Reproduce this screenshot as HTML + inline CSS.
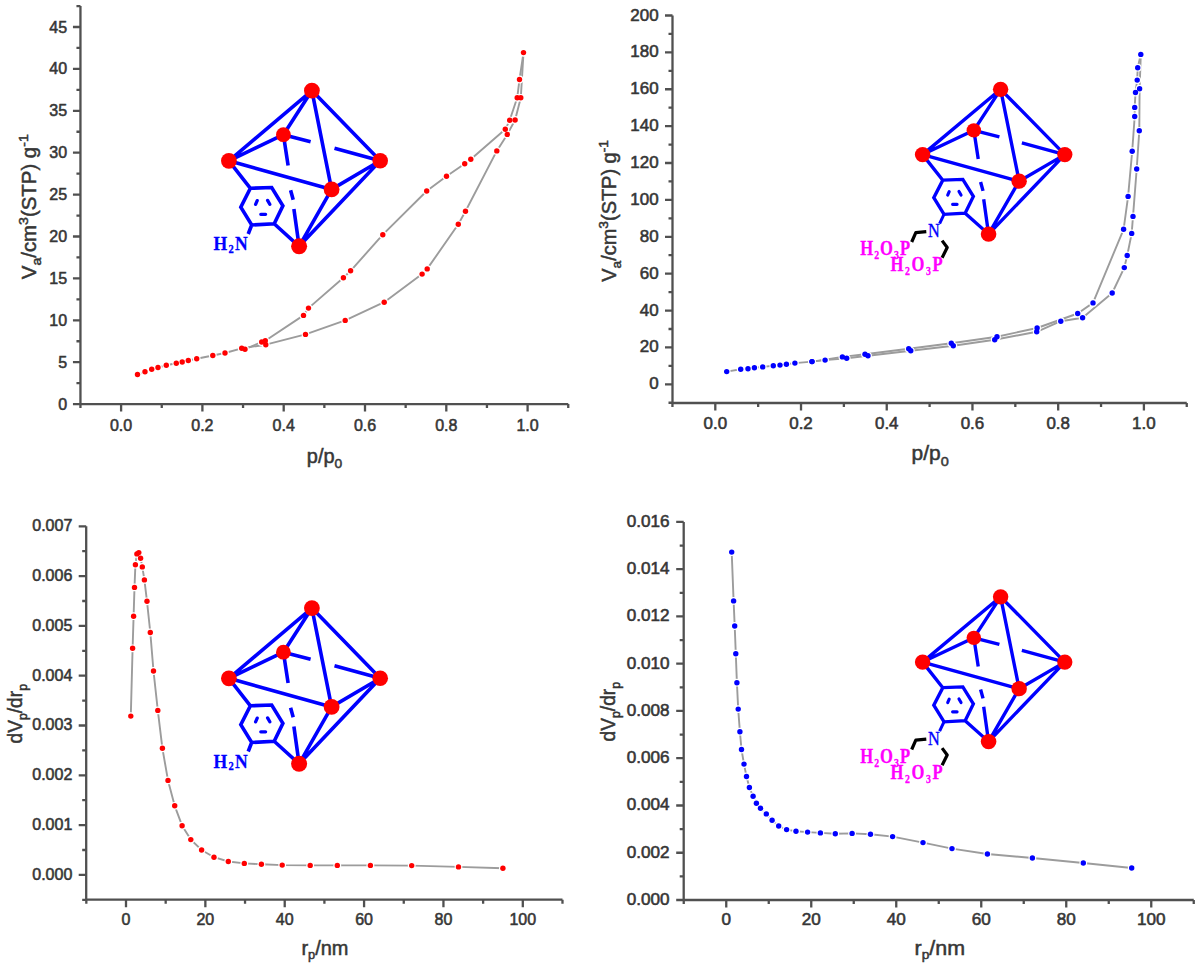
<!DOCTYPE html><html><head><meta charset="utf-8"><style>html,body{margin:0;padding:0;background:#fff;width:1200px;height:969px;overflow:hidden}svg{display:block}.t{font-family:"Liberation Sans",sans-serif;font-size:16px;fill:#363636;stroke:#363636;stroke-width:0.55px}.ti{font-family:"Liberation Sans",sans-serif;font-size:19.5px;fill:#363636;stroke:#363636;stroke-width:0.5px}.sf{font-family:"Liberation Serif",serif;font-weight:bold}</style></head><body>
<svg width="1200" height="969" viewBox="0 0 1200 969">
<defs><filter id="bl" x="0" y="0" width="1200" height="969" filterUnits="userSpaceOnUse"><feGaussianBlur stdDeviation="0.0"/></filter></defs>
<rect width="1200" height="969" fill="#fff"/>
<g>
<path d="M80.45 6.05V404.1H568.25" fill="none" stroke="#505050" stroke-width="2.3" stroke-linejoin="round"/>
<text x="67.15" y="409.6" text-anchor="end" class="t">0</text>
<text x="67.15" y="367.7" text-anchor="end" class="t">5</text>
<text x="67.15" y="325.8" text-anchor="end" class="t">10</text>
<text x="67.15" y="283.9" text-anchor="end" class="t">15</text>
<text x="67.15" y="242" text-anchor="end" class="t">20</text>
<text x="67.15" y="200.1" text-anchor="end" class="t">25</text>
<text x="67.15" y="158.2" text-anchor="end" class="t">30</text>
<text x="67.15" y="116.3" text-anchor="end" class="t">35</text>
<text x="67.15" y="74.4" text-anchor="end" class="t">40</text>
<text x="67.15" y="32.5" text-anchor="end" class="t">45</text>
<text x="121.1" y="430.5" text-anchor="middle" class="t">0.0</text>
<text x="202.4" y="430.5" text-anchor="middle" class="t">0.2</text>
<text x="283.7" y="430.5" text-anchor="middle" class="t">0.4</text>
<text x="365" y="430.5" text-anchor="middle" class="t">0.6</text>
<text x="446.3" y="430.5" text-anchor="middle" class="t">0.8</text>
<text x="527.6" y="430.5" text-anchor="middle" class="t">1.0</text>
<path d="M80.45 404.1h-7.5M80.45 383.15h-4M80.45 362.2h-7.5M80.45 341.25h-4M80.45 320.3h-7.5M80.45 299.35h-4M80.45 278.4h-7.5M80.45 257.45h-4M80.45 236.5h-7.5M80.45 215.55h-4M80.45 194.6h-7.5M80.45 173.65h-4M80.45 152.7h-7.5M80.45 131.75h-4M80.45 110.8h-7.5M80.45 89.85h-4M80.45 68.9h-7.5M80.45 47.95h-4M80.45 27h-7.5M80.45 6.05h-4M80.45 404.1v4M121.1 404.1v7.5M161.75 404.1v4M202.4 404.1v7.5M243.05 404.1v4M283.7 404.1v7.5M324.35 404.1v4M365 404.1v7.5M405.65 404.1v4M446.3 404.1v7.5M486.95 404.1v4M527.6 404.1v7.5M568.25 404.1v4" fill="none" stroke="#505050" stroke-width="2.3"/>
<path d="M672.5 15.5V403H1186.76" fill="none" stroke="#505050" stroke-width="2.3" stroke-linejoin="round"/>
<text transform="translate(658.6 389.3) scale(1.06 1)" text-anchor="end" class="t">0</text>
<text transform="translate(658.6 352.42) scale(1.06 1)" text-anchor="end" class="t">20</text>
<text transform="translate(658.6 315.54) scale(1.06 1)" text-anchor="end" class="t">40</text>
<text transform="translate(658.6 278.66) scale(1.06 1)" text-anchor="end" class="t">60</text>
<text transform="translate(658.6 241.78) scale(1.06 1)" text-anchor="end" class="t">80</text>
<text transform="translate(658.6 204.9) scale(1.06 1)" text-anchor="end" class="t">100</text>
<text transform="translate(658.6 168.02) scale(1.06 1)" text-anchor="end" class="t">120</text>
<text transform="translate(658.6 131.14) scale(1.06 1)" text-anchor="end" class="t">140</text>
<text transform="translate(658.6 94.26) scale(1.06 1)" text-anchor="end" class="t">160</text>
<text transform="translate(658.6 57.38) scale(1.06 1)" text-anchor="end" class="t">180</text>
<text transform="translate(658.6 20.5) scale(1.06 1)" text-anchor="end" class="t">200</text>
<text transform="translate(715.3 429) scale(1.06 1)" text-anchor="middle" class="t">0.0</text>
<text transform="translate(801.02 429) scale(1.06 1)" text-anchor="middle" class="t">0.2</text>
<text transform="translate(886.74 429) scale(1.06 1)" text-anchor="middle" class="t">0.4</text>
<text transform="translate(972.46 429) scale(1.06 1)" text-anchor="middle" class="t">0.6</text>
<text transform="translate(1058.18 429) scale(1.06 1)" text-anchor="middle" class="t">0.8</text>
<text transform="translate(1143.9 429) scale(1.06 1)" text-anchor="middle" class="t">1.0</text>
<path d="M672.5 402.74h-4M672.5 384.3h-7.5M672.5 365.86h-4M672.5 347.42h-7.5M672.5 328.98h-4M672.5 310.54h-7.5M672.5 292.1h-4M672.5 273.66h-7.5M672.5 255.22h-4M672.5 236.78h-7.5M672.5 218.34h-4M672.5 199.9h-7.5M672.5 181.46h-4M672.5 163.02h-7.5M672.5 144.58h-4M672.5 126.14h-7.5M672.5 107.7h-4M672.5 89.26h-7.5M672.5 70.82h-4M672.5 52.38h-7.5M672.5 33.94h-4M672.5 15.5h-7.5M672.44 403v4M715.3 403v7.5M758.16 403v4M801.02 403v7.5M843.88 403v4M886.74 403v7.5M929.6 403v4M972.46 403v7.5M1015.32 403v4M1058.18 403v7.5M1101.04 403v4M1143.9 403v7.5M1186.76 403v4" fill="none" stroke="#505050" stroke-width="2.3"/>
<path d="M86.2 526.3V899.7H562.48" fill="none" stroke="#505050" stroke-width="2.3" stroke-linejoin="round"/>
<text x="72.3" y="879.7" text-anchor="end" class="t">0.000</text>
<text x="72.3" y="829.9" text-anchor="end" class="t">0.001</text>
<text x="72.3" y="780.1" text-anchor="end" class="t">0.002</text>
<text x="72.3" y="730.3" text-anchor="end" class="t">0.003</text>
<text x="72.3" y="680.5" text-anchor="end" class="t">0.004</text>
<text x="72.3" y="630.7" text-anchor="end" class="t">0.005</text>
<text x="72.3" y="580.9" text-anchor="end" class="t">0.006</text>
<text x="72.3" y="531.1" text-anchor="end" class="t">0.007</text>
<text x="126" y="924.7" text-anchor="middle" class="t">0</text>
<text x="205.36" y="924.7" text-anchor="middle" class="t">20</text>
<text x="284.72" y="924.7" text-anchor="middle" class="t">40</text>
<text x="364.08" y="924.7" text-anchor="middle" class="t">60</text>
<text x="443.44" y="924.7" text-anchor="middle" class="t">80</text>
<text x="522.8" y="924.7" text-anchor="middle" class="t">100</text>
<path d="M86.2 899.8h-4M86.2 874.9h-7.5M86.2 850h-4M86.2 825.1h-7.5M86.2 800.2h-4M86.2 775.3h-7.5M86.2 750.4h-4M86.2 725.5h-7.5M86.2 700.6h-4M86.2 675.7h-7.5M86.2 650.8h-4M86.2 625.9h-7.5M86.2 601h-4M86.2 576.1h-7.5M86.2 551.2h-4M86.2 526.3h-7.5M86.32 899.7v4M126 899.7v7.5M165.68 899.7v4M205.36 899.7v7.5M245.04 899.7v4M284.72 899.7v7.5M324.4 899.7v4M364.08 899.7v7.5M403.76 899.7v4M443.44 899.7v7.5M483.12 899.7v4M522.8 899.7v7.5M562.48 899.7v4" fill="none" stroke="#505050" stroke-width="2.3"/>
<path d="M683.7 521.92V900H1193.75" fill="none" stroke="#505050" stroke-width="2.3" stroke-linejoin="round"/>
<text transform="translate(669.6 905) scale(1.07 1)" text-anchor="end" class="t">0.000</text>
<text transform="translate(669.6 857.74) scale(1.07 1)" text-anchor="end" class="t">0.002</text>
<text transform="translate(669.6 810.48) scale(1.07 1)" text-anchor="end" class="t">0.004</text>
<text transform="translate(669.6 763.22) scale(1.07 1)" text-anchor="end" class="t">0.006</text>
<text transform="translate(669.6 715.96) scale(1.07 1)" text-anchor="end" class="t">0.008</text>
<text transform="translate(669.6 668.7) scale(1.07 1)" text-anchor="end" class="t">0.010</text>
<text transform="translate(669.6 621.44) scale(1.07 1)" text-anchor="end" class="t">0.012</text>
<text transform="translate(669.6 574.18) scale(1.07 1)" text-anchor="end" class="t">0.014</text>
<text transform="translate(669.6 526.92) scale(1.07 1)" text-anchor="end" class="t">0.016</text>
<text transform="translate(726.25 924.6) scale(1.07 1)" text-anchor="middle" class="t">0</text>
<text transform="translate(811.25 924.6) scale(1.07 1)" text-anchor="middle" class="t">20</text>
<text transform="translate(896.25 924.6) scale(1.07 1)" text-anchor="middle" class="t">40</text>
<text transform="translate(981.25 924.6) scale(1.07 1)" text-anchor="middle" class="t">60</text>
<text transform="translate(1066.25 924.6) scale(1.07 1)" text-anchor="middle" class="t">80</text>
<text transform="translate(1151.25 924.6) scale(1.07 1)" text-anchor="middle" class="t">100</text>
<path d="M683.7 900h-7.5M683.7 876.37h-4M683.7 852.74h-7.5M683.7 829.11h-4M683.7 805.48h-7.5M683.7 781.85h-4M683.7 758.22h-7.5M683.7 734.59h-4M683.7 710.96h-7.5M683.7 687.33h-4M683.7 663.7h-7.5M683.7 640.07h-4M683.7 616.44h-7.5M683.7 592.81h-4M683.7 569.18h-7.5M683.7 545.55h-4M683.7 521.92h-7.5M683.75 900v4M726.25 900v7.5M768.75 900v4M811.25 900v7.5M853.75 900v4M896.25 900v7.5M938.75 900v4M981.25 900v7.5M1023.75 900v4M1066.25 900v7.5M1108.75 900v4M1151.25 900v7.5M1193.75 900v4" fill="none" stroke="#505050" stroke-width="2.3"/>
<path d="M137.5 374.5 L145 371.7 L151.7 369.2 L158 367.5 L166.3 365.3 L176.3 363.3 L182.2 362 L188.3 360.5 L196.7 358.8 L212.8 355.5 L225 353 L241.7 348.3 L265.8 344.7 L305.5 334.4 L345.2 320.4 L384.2 302.2 L422.1 274.1 L427.2 268.9 L458.3 224.3 L465.5 211.3 L496.8 150.9 L507.3 134.4 L515.1 120 L520.8 97.8 L523.5 52.6" fill="none" stroke="#9c9c9c" stroke-width="1.9" stroke-linejoin="round"/>
<path d="M523.5 52.6 L519.5 79.5 L517.2 97.8 L509.7 120.3 L505.3 129.3 L470.8 159.2 L464.7 163.7 L446.5 176.2 L426.7 191 L382.8 234.7 L350.6 270.8 L343.4 277.7 L308.5 308.1 L303.5 315.4 L265.3 340.8 L261.7 342 L245 349.2" fill="none" stroke="#9c9c9c" stroke-width="1.9" stroke-linejoin="round"/>
<path d="M726.7 371.6 L740.7 369.3 L748 368.7 L754.4 367.7 L762.7 366.9 L773.3 365.7 L780 365.1 L786.4 364.3 L794.9 363.1 L812 361.6 L825.1 360.1 L846.7 358.3 L868 355.8 L910.8 350.8 L953.3 345.8 L994.7 339.7 L1036.7 331.8 L1060.8 321.2 L1082.6 317.8 L1112.2 293 L1124.3 267.6 L1127.2 255.5 L1131.7 233.4 L1133 216.4 L1136.7 169 L1139.3 130.8 L1139.6 88.7 L1140.8 54.4" fill="none" stroke="#9c9c9c" stroke-width="1.9" stroke-linejoin="round"/>
<path d="M1140.8 54.4 L1137.7 67.7 L1137.2 80.1 L1135.5 92.5 L1134.7 107.4 L1134.7 116.5 L1132.2 151.2 L1128.1 196.4 L1123.6 229.3 L1093 302.9 L1077.7 313.5 L1037.1 328 L997 336.7 L951.3 343.3 L908.7 348.7 L865 354.2 L842.4 356.9 L812 361.6" fill="none" stroke="#9c9c9c" stroke-width="1.9" stroke-linejoin="round"/>
<path d="M130.8 716.1 L132.6 648.3 L133.6 616.2 L134.5 587.4 L135.4 564.7 L136.9 553.9 L138.8 552.6 L140.6 558.2 L142.3 566.9 L144.4 579.9 L147 601.3 L150.3 632.5 L153.5 671 L157.8 710.4 L162.4 748.3 L168 780.4 L174.7 805.8 L182.1 825.7 L190.8 839.6 L201.6 850 L214 857.2 L228.3 861.5 L244.3 863.4 L261.4 864.3 L282.2 865.1 L310.2 865.4 L337.3 865.4 L370.4 865.4 L411.7 865.6 L458.5 866.9 L502.9 868.3" fill="none" stroke="#9c9c9c" stroke-width="1.9" stroke-linejoin="round"/>
<path d="M731.7 552.1 L733.6 600.9 L734.7 626 L735.8 653.7 L736.9 682.7 L738.2 709.1 L739.9 731.7 L741.5 749.5 L744 764.1 L746.5 776.5 L749.4 787.5 L753.1 796.3 L756.4 803.2 L760.5 808.3 L766.3 813.9 L772.1 820.2 L778.7 826 L786.6 829.6 L796 831.3 L807.6 832.1 L820.4 832.9 L835.3 833.8 L852.1 833.4 L870.5 834.3 L892.6 836.6 L923 842.6 L952 848.6 L987.4 854 L1032.4 858 L1083.3 863 L1131.7 868" fill="none" stroke="#9c9c9c" stroke-width="1.9" stroke-linejoin="round"/>
<g><path d="M311.9 90.6L228.9 160.8M311.9 90.6L380.2 160.8M311.9 90.6L283.4 134.7M311.9 90.6L331.6 189.4M228.9 160.8L283.4 134.7M228.9 160.8L331.6 189.4M380.2 160.8L331.6 189.4M380.2 160.8L299.1 246.3M331.6 189.4L299.1 246.3M283.4 134.7L310.6 141.8M334.5 148.2L380.2 160.8M283.4 134.7L288.1 165.6M290.6 190.2L293.2 199.8M293.9 208.9L299.1 246.3M228.9 160.8L250.4 188.3M274.2 223.75L299.1 246.3M250.4 188.3 L271.7 187.5 L282.9 205.8 L274.2 223.75 L251.7 225 L240.8 207.1ZM251.7 225L248.2 234" fill="none" stroke="#0000ff" stroke-width="3.6" stroke-linecap="butt" stroke-linejoin="miter"/><path d="M255.6 204.4L257.2 200.6M267.6 200.4L269.8 204.3M260.8 214.3L265.6 214.3" fill="none" stroke="#0000ff" stroke-width="3.3" stroke-linecap="round"/><circle cx="311.9" cy="90.6" r="7.9" fill="#ff0000"/><circle cx="283.4" cy="134.7" r="7.4" fill="#ff0000"/><circle cx="228.9" cy="160.8" r="7.9" fill="#ff0000"/><circle cx="380.2" cy="160.8" r="7.8" fill="#ff0000"/><circle cx="331.6" cy="189.4" r="7.9" fill="#ff0000"/><circle cx="299.1" cy="246.3" r="8" fill="#ff0000"/></g>
<g transform="translate(0 517.5)"><path d="M311.9 90.6L228.9 160.8M311.9 90.6L380.2 160.8M311.9 90.6L283.4 134.7M311.9 90.6L331.6 189.4M228.9 160.8L283.4 134.7M228.9 160.8L331.6 189.4M380.2 160.8L331.6 189.4M380.2 160.8L299.1 246.3M331.6 189.4L299.1 246.3M283.4 134.7L310.6 141.8M334.5 148.2L380.2 160.8M283.4 134.7L288.1 165.6M290.6 190.2L293.2 199.8M293.9 208.9L299.1 246.3M228.9 160.8L250.4 188.3M274.2 223.75L299.1 246.3M250.4 188.3 L271.7 187.5 L282.9 205.8 L274.2 223.75 L251.7 225 L240.8 207.1ZM251.7 225L248.2 234" fill="none" stroke="#0000ff" stroke-width="3.6" stroke-linecap="butt" stroke-linejoin="miter"/><path d="M255.6 204.4L257.2 200.6M267.6 200.4L269.8 204.3M260.8 214.3L265.6 214.3" fill="none" stroke="#0000ff" stroke-width="3.3" stroke-linecap="round"/><circle cx="311.9" cy="90.6" r="7.9" fill="#ff0000"/><circle cx="283.4" cy="134.7" r="7.4" fill="#ff0000"/><circle cx="228.9" cy="160.8" r="7.9" fill="#ff0000"/><circle cx="380.2" cy="160.8" r="7.8" fill="#ff0000"/><circle cx="331.6" cy="189.4" r="7.9" fill="#ff0000"/><circle cx="299.1" cy="246.3" r="8" fill="#ff0000"/></g>
<g transform="matrix(0.94 0 0 0.93 707.43 5.06)"><path d="M311.9 90.6L228.9 160.8M311.9 90.6L380.2 160.8M311.9 90.6L283.4 134.7M311.9 90.6L331.6 189.4M228.9 160.8L283.4 134.7M228.9 160.8L331.6 189.4M380.2 160.8L331.6 189.4M380.2 160.8L299.1 246.3M331.6 189.4L299.1 246.3M283.4 134.7L310.6 141.8M334.5 148.2L380.2 160.8M283.4 134.7L288.1 165.6M290.6 190.2L293.2 199.8M293.9 208.9L299.1 246.3M228.9 160.8L250.4 188.3M274.2 223.75L299.1 246.3M250.4 188.3 L271.7 187.5 L282.9 205.8 L274.2 223.75 L251.7 225 L240.8 207.1Z" fill="none" stroke="#0000ff" stroke-width="3.6" stroke-linecap="butt" stroke-linejoin="miter"/><path d="M255.6 204.4L257.2 200.6M267.6 200.4L269.8 204.3M260.8 214.3L265.6 214.3" fill="none" stroke="#0000ff" stroke-width="3.3" stroke-linecap="round"/><circle cx="311.9" cy="90.6" r="8.22" fill="#ff0000"/><circle cx="283.4" cy="134.7" r="7.7" fill="#ff0000"/><circle cx="228.9" cy="160.8" r="8.22" fill="#ff0000"/><circle cx="380.2" cy="160.8" r="8.11" fill="#ff0000"/><circle cx="331.6" cy="189.4" r="8.22" fill="#ff0000"/><circle cx="299.1" cy="246.3" r="8.32" fill="#ff0000"/></g>
<g transform="matrix(0.94 0 0 0.93 707.43 512.56)"><path d="M311.9 90.6L228.9 160.8M311.9 90.6L380.2 160.8M311.9 90.6L283.4 134.7M311.9 90.6L331.6 189.4M228.9 160.8L283.4 134.7M228.9 160.8L331.6 189.4M380.2 160.8L331.6 189.4M380.2 160.8L299.1 246.3M331.6 189.4L299.1 246.3M283.4 134.7L310.6 141.8M334.5 148.2L380.2 160.8M283.4 134.7L288.1 165.6M290.6 190.2L293.2 199.8M293.9 208.9L299.1 246.3M228.9 160.8L250.4 188.3M274.2 223.75L299.1 246.3M250.4 188.3 L271.7 187.5 L282.9 205.8 L274.2 223.75 L251.7 225 L240.8 207.1Z" fill="none" stroke="#0000ff" stroke-width="3.6" stroke-linecap="butt" stroke-linejoin="miter"/><path d="M255.6 204.4L257.2 200.6M267.6 200.4L269.8 204.3M260.8 214.3L265.6 214.3" fill="none" stroke="#0000ff" stroke-width="3.3" stroke-linecap="round"/><circle cx="311.9" cy="90.6" r="8.22" fill="#ff0000"/><circle cx="283.4" cy="134.7" r="7.7" fill="#ff0000"/><circle cx="228.9" cy="160.8" r="8.22" fill="#ff0000"/><circle cx="380.2" cy="160.8" r="8.11" fill="#ff0000"/><circle cx="331.6" cy="189.4" r="8.22" fill="#ff0000"/><circle cx="299.1" cy="246.3" r="8.32" fill="#ff0000"/></g>
<text transform="translate(213.4 250) scale(1 1.1)" class="sf" font-size="17.6" fill="#0000ff" stroke="#0000ff" stroke-width="0.25" textLength="34.3" lengthAdjust="spacing">H<tspan font-size="10.5" dy="2.6">2</tspan><tspan dy="-2.6">N</tspan></text>
<text transform="translate(213.4 767.5) scale(1 1.1)" class="sf" font-size="17.6" fill="#0000ff" stroke="#0000ff" stroke-width="0.25" textLength="34.3" lengthAdjust="spacing">H<tspan font-size="10.5" dy="2.6">2</tspan><tspan dy="-2.6">N</tspan></text>
<path d="M944.6 213.2L939.6 223.6" stroke="#0000ff" stroke-width="3" fill="none"/><text transform="translate(928.0 237.2) scale(1.02 1.15)" font-family="Liberation Serif" font-size="16" fill="#0000ff" stroke="#0000ff" stroke-width="0.3">N</text><path d="M911.7 242L915.8 232.6L926.3 231.6M942.1 240.6L947.2 247.5L942.1 257.8" stroke="#000" stroke-width="3.2" fill="none" stroke-linejoin="round"/><text transform="translate(860.2 255.4) scale(1 1.22)" class="sf" font-size="16.6" fill="#ff00ff" stroke="#ff00ff" stroke-width="0.25" textLength="50" lengthAdjust="spacing">H<tspan font-size="9.8" dy="3.1">2</tspan><tspan dy="-3.1">O</tspan><tspan font-size="9.8" dy="3.1">3</tspan><tspan dy="-3.1">P</tspan></text><text transform="translate(890.6 271.4) scale(1 1.22)" class="sf" font-size="16.6" fill="#ff00ff" stroke="#ff00ff" stroke-width="0.25" textLength="52" lengthAdjust="spacing">H<tspan font-size="9.8" dy="3.1">2</tspan><tspan dy="-3.1">O</tspan><tspan font-size="9.8" dy="3.1">3</tspan><tspan dy="-3.1">P</tspan></text>
<path d="M944.6 720.7L939.6 731.1" stroke="#0000ff" stroke-width="3" fill="none"/><text transform="translate(928.0 744.7) scale(1.02 1.15)" font-family="Liberation Serif" font-size="16" fill="#0000ff" stroke="#0000ff" stroke-width="0.3">N</text><path d="M911.7 749.5L915.8 740.1L926.3 739.1M942.1 748.1L947.2 755L942.1 765.3" stroke="#000" stroke-width="3.2" fill="none" stroke-linejoin="round"/><text transform="translate(860.2 762.9) scale(1 1.22)" class="sf" font-size="16.6" fill="#ff00ff" stroke="#ff00ff" stroke-width="0.25" textLength="50" lengthAdjust="spacing">H<tspan font-size="9.8" dy="3.1">2</tspan><tspan dy="-3.1">O</tspan><tspan font-size="9.8" dy="3.1">3</tspan><tspan dy="-3.1">P</tspan></text><text transform="translate(890.6 778.9) scale(1 1.22)" class="sf" font-size="16.6" fill="#ff00ff" stroke="#ff00ff" stroke-width="0.25" textLength="52" lengthAdjust="spacing">H<tspan font-size="9.8" dy="3.1">2</tspan><tspan dy="-3.1">O</tspan><tspan font-size="9.8" dy="3.1">3</tspan><tspan dy="-3.1">P</tspan></text>
<circle cx="137.5" cy="374.5" r="3.9000000000000004" fill="#fff"/>
<circle cx="145" cy="371.7" r="3.9000000000000004" fill="#fff"/>
<circle cx="151.7" cy="369.2" r="3.9000000000000004" fill="#fff"/>
<circle cx="158" cy="367.5" r="3.9000000000000004" fill="#fff"/>
<circle cx="166.3" cy="365.3" r="3.9000000000000004" fill="#fff"/>
<circle cx="176.3" cy="363.3" r="3.9000000000000004" fill="#fff"/>
<circle cx="182.2" cy="362" r="3.9000000000000004" fill="#fff"/>
<circle cx="188.3" cy="360.5" r="3.9000000000000004" fill="#fff"/>
<circle cx="196.7" cy="358.8" r="3.9000000000000004" fill="#fff"/>
<circle cx="212.8" cy="355.5" r="3.9000000000000004" fill="#fff"/>
<circle cx="225" cy="353" r="3.9000000000000004" fill="#fff"/>
<circle cx="241.7" cy="348.3" r="3.9000000000000004" fill="#fff"/>
<circle cx="265.8" cy="344.7" r="3.9000000000000004" fill="#fff"/>
<circle cx="305.5" cy="334.4" r="3.9000000000000004" fill="#fff"/>
<circle cx="345.2" cy="320.4" r="3.9000000000000004" fill="#fff"/>
<circle cx="384.2" cy="302.2" r="3.9000000000000004" fill="#fff"/>
<circle cx="422.1" cy="274.1" r="3.9000000000000004" fill="#fff"/>
<circle cx="427.2" cy="268.9" r="3.9000000000000004" fill="#fff"/>
<circle cx="458.3" cy="224.3" r="3.9000000000000004" fill="#fff"/>
<circle cx="465.5" cy="211.3" r="3.9000000000000004" fill="#fff"/>
<circle cx="496.8" cy="150.9" r="3.9000000000000004" fill="#fff"/>
<circle cx="507.3" cy="134.4" r="3.9000000000000004" fill="#fff"/>
<circle cx="515.1" cy="120" r="3.9000000000000004" fill="#fff"/>
<circle cx="520.8" cy="97.8" r="3.9000000000000004" fill="#fff"/>
<circle cx="523.5" cy="52.6" r="3.9000000000000004" fill="#fff"/>
<circle cx="523.5" cy="52.6" r="3.9000000000000004" fill="#fff"/>
<circle cx="519.5" cy="79.5" r="3.9000000000000004" fill="#fff"/>
<circle cx="517.2" cy="97.8" r="3.9000000000000004" fill="#fff"/>
<circle cx="509.7" cy="120.3" r="3.9000000000000004" fill="#fff"/>
<circle cx="505.3" cy="129.3" r="3.9000000000000004" fill="#fff"/>
<circle cx="470.8" cy="159.2" r="3.9000000000000004" fill="#fff"/>
<circle cx="464.7" cy="163.7" r="3.9000000000000004" fill="#fff"/>
<circle cx="446.5" cy="176.2" r="3.9000000000000004" fill="#fff"/>
<circle cx="426.7" cy="191" r="3.9000000000000004" fill="#fff"/>
<circle cx="382.8" cy="234.7" r="3.9000000000000004" fill="#fff"/>
<circle cx="350.6" cy="270.8" r="3.9000000000000004" fill="#fff"/>
<circle cx="343.4" cy="277.7" r="3.9000000000000004" fill="#fff"/>
<circle cx="308.5" cy="308.1" r="3.9000000000000004" fill="#fff"/>
<circle cx="303.5" cy="315.4" r="3.9000000000000004" fill="#fff"/>
<circle cx="265.3" cy="340.8" r="3.9000000000000004" fill="#fff"/>
<circle cx="261.7" cy="342" r="3.9000000000000004" fill="#fff"/>
<circle cx="245" cy="349.2" r="3.9000000000000004" fill="#fff"/>
<circle cx="726.7" cy="371.6" r="3.9000000000000004" fill="#fff"/>
<circle cx="740.7" cy="369.3" r="3.9000000000000004" fill="#fff"/>
<circle cx="748" cy="368.7" r="3.9000000000000004" fill="#fff"/>
<circle cx="754.4" cy="367.7" r="3.9000000000000004" fill="#fff"/>
<circle cx="762.7" cy="366.9" r="3.9000000000000004" fill="#fff"/>
<circle cx="773.3" cy="365.7" r="3.9000000000000004" fill="#fff"/>
<circle cx="780" cy="365.1" r="3.9000000000000004" fill="#fff"/>
<circle cx="786.4" cy="364.3" r="3.9000000000000004" fill="#fff"/>
<circle cx="794.9" cy="363.1" r="3.9000000000000004" fill="#fff"/>
<circle cx="812" cy="361.6" r="3.9000000000000004" fill="#fff"/>
<circle cx="825.1" cy="360.1" r="3.9000000000000004" fill="#fff"/>
<circle cx="846.7" cy="358.3" r="3.9000000000000004" fill="#fff"/>
<circle cx="868" cy="355.8" r="3.9000000000000004" fill="#fff"/>
<circle cx="910.8" cy="350.8" r="3.9000000000000004" fill="#fff"/>
<circle cx="953.3" cy="345.8" r="3.9000000000000004" fill="#fff"/>
<circle cx="994.7" cy="339.7" r="3.9000000000000004" fill="#fff"/>
<circle cx="1036.7" cy="331.8" r="3.9000000000000004" fill="#fff"/>
<circle cx="1060.8" cy="321.2" r="3.9000000000000004" fill="#fff"/>
<circle cx="1082.6" cy="317.8" r="3.9000000000000004" fill="#fff"/>
<circle cx="1112.2" cy="293" r="3.9000000000000004" fill="#fff"/>
<circle cx="1124.3" cy="267.6" r="3.9000000000000004" fill="#fff"/>
<circle cx="1127.2" cy="255.5" r="3.9000000000000004" fill="#fff"/>
<circle cx="1131.7" cy="233.4" r="3.9000000000000004" fill="#fff"/>
<circle cx="1133" cy="216.4" r="3.9000000000000004" fill="#fff"/>
<circle cx="1136.7" cy="169" r="3.9000000000000004" fill="#fff"/>
<circle cx="1139.3" cy="130.8" r="3.9000000000000004" fill="#fff"/>
<circle cx="1139.6" cy="88.7" r="3.9000000000000004" fill="#fff"/>
<circle cx="1140.8" cy="54.4" r="3.9000000000000004" fill="#fff"/>
<circle cx="1140.8" cy="54.4" r="3.9000000000000004" fill="#fff"/>
<circle cx="1137.7" cy="67.7" r="3.9000000000000004" fill="#fff"/>
<circle cx="1137.2" cy="80.1" r="3.9000000000000004" fill="#fff"/>
<circle cx="1135.5" cy="92.5" r="3.9000000000000004" fill="#fff"/>
<circle cx="1134.7" cy="107.4" r="3.9000000000000004" fill="#fff"/>
<circle cx="1134.7" cy="116.5" r="3.9000000000000004" fill="#fff"/>
<circle cx="1132.2" cy="151.2" r="3.9000000000000004" fill="#fff"/>
<circle cx="1128.1" cy="196.4" r="3.9000000000000004" fill="#fff"/>
<circle cx="1123.6" cy="229.3" r="3.9000000000000004" fill="#fff"/>
<circle cx="1093" cy="302.9" r="3.9000000000000004" fill="#fff"/>
<circle cx="1077.7" cy="313.5" r="3.9000000000000004" fill="#fff"/>
<circle cx="1037.1" cy="328" r="3.9000000000000004" fill="#fff"/>
<circle cx="997" cy="336.7" r="3.9000000000000004" fill="#fff"/>
<circle cx="951.3" cy="343.3" r="3.9000000000000004" fill="#fff"/>
<circle cx="908.7" cy="348.7" r="3.9000000000000004" fill="#fff"/>
<circle cx="865" cy="354.2" r="3.9000000000000004" fill="#fff"/>
<circle cx="842.4" cy="356.9" r="3.9000000000000004" fill="#fff"/>
<circle cx="812" cy="361.6" r="3.9000000000000004" fill="#fff"/>
<circle cx="130.8" cy="716.1" r="3.9000000000000004" fill="#fff"/>
<circle cx="132.6" cy="648.3" r="3.9000000000000004" fill="#fff"/>
<circle cx="133.6" cy="616.2" r="3.9000000000000004" fill="#fff"/>
<circle cx="134.5" cy="587.4" r="3.9000000000000004" fill="#fff"/>
<circle cx="135.4" cy="564.7" r="3.9000000000000004" fill="#fff"/>
<circle cx="136.9" cy="553.9" r="3.9000000000000004" fill="#fff"/>
<circle cx="138.8" cy="552.6" r="3.9000000000000004" fill="#fff"/>
<circle cx="140.6" cy="558.2" r="3.9000000000000004" fill="#fff"/>
<circle cx="142.3" cy="566.9" r="3.9000000000000004" fill="#fff"/>
<circle cx="144.4" cy="579.9" r="3.9000000000000004" fill="#fff"/>
<circle cx="147" cy="601.3" r="3.9000000000000004" fill="#fff"/>
<circle cx="150.3" cy="632.5" r="3.9000000000000004" fill="#fff"/>
<circle cx="153.5" cy="671" r="3.9000000000000004" fill="#fff"/>
<circle cx="157.8" cy="710.4" r="3.9000000000000004" fill="#fff"/>
<circle cx="162.4" cy="748.3" r="3.9000000000000004" fill="#fff"/>
<circle cx="168" cy="780.4" r="3.9000000000000004" fill="#fff"/>
<circle cx="174.7" cy="805.8" r="3.9000000000000004" fill="#fff"/>
<circle cx="182.1" cy="825.7" r="3.9000000000000004" fill="#fff"/>
<circle cx="190.8" cy="839.6" r="3.9000000000000004" fill="#fff"/>
<circle cx="201.6" cy="850" r="3.9000000000000004" fill="#fff"/>
<circle cx="214" cy="857.2" r="3.9000000000000004" fill="#fff"/>
<circle cx="228.3" cy="861.5" r="3.9000000000000004" fill="#fff"/>
<circle cx="244.3" cy="863.4" r="3.9000000000000004" fill="#fff"/>
<circle cx="261.4" cy="864.3" r="3.9000000000000004" fill="#fff"/>
<circle cx="282.2" cy="865.1" r="3.9000000000000004" fill="#fff"/>
<circle cx="310.2" cy="865.4" r="3.9000000000000004" fill="#fff"/>
<circle cx="337.3" cy="865.4" r="3.9000000000000004" fill="#fff"/>
<circle cx="370.4" cy="865.4" r="3.9000000000000004" fill="#fff"/>
<circle cx="411.7" cy="865.6" r="3.9000000000000004" fill="#fff"/>
<circle cx="458.5" cy="866.9" r="3.9000000000000004" fill="#fff"/>
<circle cx="502.9" cy="868.3" r="3.9000000000000004" fill="#fff"/>
<circle cx="731.7" cy="552.1" r="3.9000000000000004" fill="#fff"/>
<circle cx="733.6" cy="600.9" r="3.9000000000000004" fill="#fff"/>
<circle cx="734.7" cy="626" r="3.9000000000000004" fill="#fff"/>
<circle cx="735.8" cy="653.7" r="3.9000000000000004" fill="#fff"/>
<circle cx="736.9" cy="682.7" r="3.9000000000000004" fill="#fff"/>
<circle cx="738.2" cy="709.1" r="3.9000000000000004" fill="#fff"/>
<circle cx="739.9" cy="731.7" r="3.9000000000000004" fill="#fff"/>
<circle cx="741.5" cy="749.5" r="3.9000000000000004" fill="#fff"/>
<circle cx="744" cy="764.1" r="3.9000000000000004" fill="#fff"/>
<circle cx="746.5" cy="776.5" r="3.9000000000000004" fill="#fff"/>
<circle cx="749.4" cy="787.5" r="3.9000000000000004" fill="#fff"/>
<circle cx="753.1" cy="796.3" r="3.9000000000000004" fill="#fff"/>
<circle cx="756.4" cy="803.2" r="3.9000000000000004" fill="#fff"/>
<circle cx="760.5" cy="808.3" r="3.9000000000000004" fill="#fff"/>
<circle cx="766.3" cy="813.9" r="3.9000000000000004" fill="#fff"/>
<circle cx="772.1" cy="820.2" r="3.9000000000000004" fill="#fff"/>
<circle cx="778.7" cy="826" r="3.9000000000000004" fill="#fff"/>
<circle cx="786.6" cy="829.6" r="3.9000000000000004" fill="#fff"/>
<circle cx="796" cy="831.3" r="3.9000000000000004" fill="#fff"/>
<circle cx="807.6" cy="832.1" r="3.9000000000000004" fill="#fff"/>
<circle cx="820.4" cy="832.9" r="3.9000000000000004" fill="#fff"/>
<circle cx="835.3" cy="833.8" r="3.9000000000000004" fill="#fff"/>
<circle cx="852.1" cy="833.4" r="3.9000000000000004" fill="#fff"/>
<circle cx="870.5" cy="834.3" r="3.9000000000000004" fill="#fff"/>
<circle cx="892.6" cy="836.6" r="3.9000000000000004" fill="#fff"/>
<circle cx="923" cy="842.6" r="3.9000000000000004" fill="#fff"/>
<circle cx="952" cy="848.6" r="3.9000000000000004" fill="#fff"/>
<circle cx="987.4" cy="854" r="3.9000000000000004" fill="#fff"/>
<circle cx="1032.4" cy="858" r="3.9000000000000004" fill="#fff"/>
<circle cx="1083.3" cy="863" r="3.9000000000000004" fill="#fff"/>
<circle cx="1131.7" cy="868" r="3.9000000000000004" fill="#fff"/>
<circle cx="137.5" cy="374.5" r="2.7" fill="#ff0000"/>
<circle cx="145" cy="371.7" r="2.7" fill="#ff0000"/>
<circle cx="151.7" cy="369.2" r="2.7" fill="#ff0000"/>
<circle cx="158" cy="367.5" r="2.7" fill="#ff0000"/>
<circle cx="166.3" cy="365.3" r="2.7" fill="#ff0000"/>
<circle cx="176.3" cy="363.3" r="2.7" fill="#ff0000"/>
<circle cx="182.2" cy="362" r="2.7" fill="#ff0000"/>
<circle cx="188.3" cy="360.5" r="2.7" fill="#ff0000"/>
<circle cx="196.7" cy="358.8" r="2.7" fill="#ff0000"/>
<circle cx="212.8" cy="355.5" r="2.7" fill="#ff0000"/>
<circle cx="225" cy="353" r="2.7" fill="#ff0000"/>
<circle cx="241.7" cy="348.3" r="2.7" fill="#ff0000"/>
<circle cx="265.8" cy="344.7" r="2.7" fill="#ff0000"/>
<circle cx="305.5" cy="334.4" r="2.7" fill="#ff0000"/>
<circle cx="345.2" cy="320.4" r="2.7" fill="#ff0000"/>
<circle cx="384.2" cy="302.2" r="2.7" fill="#ff0000"/>
<circle cx="422.1" cy="274.1" r="2.7" fill="#ff0000"/>
<circle cx="427.2" cy="268.9" r="2.7" fill="#ff0000"/>
<circle cx="458.3" cy="224.3" r="2.7" fill="#ff0000"/>
<circle cx="465.5" cy="211.3" r="2.7" fill="#ff0000"/>
<circle cx="496.8" cy="150.9" r="2.7" fill="#ff0000"/>
<circle cx="507.3" cy="134.4" r="2.7" fill="#ff0000"/>
<circle cx="515.1" cy="120" r="2.7" fill="#ff0000"/>
<circle cx="520.8" cy="97.8" r="2.7" fill="#ff0000"/>
<circle cx="523.5" cy="52.6" r="2.7" fill="#ff0000"/>
<circle cx="519.5" cy="79.5" r="2.7" fill="#ff0000"/>
<circle cx="517.2" cy="97.8" r="2.7" fill="#ff0000"/>
<circle cx="509.7" cy="120.3" r="2.7" fill="#ff0000"/>
<circle cx="505.3" cy="129.3" r="2.7" fill="#ff0000"/>
<circle cx="470.8" cy="159.2" r="2.7" fill="#ff0000"/>
<circle cx="464.7" cy="163.7" r="2.7" fill="#ff0000"/>
<circle cx="446.5" cy="176.2" r="2.7" fill="#ff0000"/>
<circle cx="426.7" cy="191" r="2.7" fill="#ff0000"/>
<circle cx="382.8" cy="234.7" r="2.7" fill="#ff0000"/>
<circle cx="350.6" cy="270.8" r="2.7" fill="#ff0000"/>
<circle cx="343.4" cy="277.7" r="2.7" fill="#ff0000"/>
<circle cx="308.5" cy="308.1" r="2.7" fill="#ff0000"/>
<circle cx="303.5" cy="315.4" r="2.7" fill="#ff0000"/>
<circle cx="265.3" cy="340.8" r="2.7" fill="#ff0000"/>
<circle cx="261.7" cy="342" r="2.7" fill="#ff0000"/>
<circle cx="245" cy="349.2" r="2.7" fill="#ff0000"/>
<circle cx="726.7" cy="371.6" r="2.7" fill="#0000ff"/>
<circle cx="740.7" cy="369.3" r="2.7" fill="#0000ff"/>
<circle cx="748" cy="368.7" r="2.7" fill="#0000ff"/>
<circle cx="754.4" cy="367.7" r="2.7" fill="#0000ff"/>
<circle cx="762.7" cy="366.9" r="2.7" fill="#0000ff"/>
<circle cx="773.3" cy="365.7" r="2.7" fill="#0000ff"/>
<circle cx="780" cy="365.1" r="2.7" fill="#0000ff"/>
<circle cx="786.4" cy="364.3" r="2.7" fill="#0000ff"/>
<circle cx="794.9" cy="363.1" r="2.7" fill="#0000ff"/>
<circle cx="812" cy="361.6" r="2.7" fill="#0000ff"/>
<circle cx="825.1" cy="360.1" r="2.7" fill="#0000ff"/>
<circle cx="846.7" cy="358.3" r="2.7" fill="#0000ff"/>
<circle cx="868" cy="355.8" r="2.7" fill="#0000ff"/>
<circle cx="910.8" cy="350.8" r="2.7" fill="#0000ff"/>
<circle cx="953.3" cy="345.8" r="2.7" fill="#0000ff"/>
<circle cx="994.7" cy="339.7" r="2.7" fill="#0000ff"/>
<circle cx="1036.7" cy="331.8" r="2.7" fill="#0000ff"/>
<circle cx="1060.8" cy="321.2" r="2.7" fill="#0000ff"/>
<circle cx="1082.6" cy="317.8" r="2.7" fill="#0000ff"/>
<circle cx="1112.2" cy="293" r="2.7" fill="#0000ff"/>
<circle cx="1124.3" cy="267.6" r="2.7" fill="#0000ff"/>
<circle cx="1127.2" cy="255.5" r="2.7" fill="#0000ff"/>
<circle cx="1131.7" cy="233.4" r="2.7" fill="#0000ff"/>
<circle cx="1133" cy="216.4" r="2.7" fill="#0000ff"/>
<circle cx="1136.7" cy="169" r="2.7" fill="#0000ff"/>
<circle cx="1139.3" cy="130.8" r="2.7" fill="#0000ff"/>
<circle cx="1139.6" cy="88.7" r="2.7" fill="#0000ff"/>
<circle cx="1140.8" cy="54.4" r="2.7" fill="#0000ff"/>
<circle cx="1137.7" cy="67.7" r="2.7" fill="#0000ff"/>
<circle cx="1137.2" cy="80.1" r="2.7" fill="#0000ff"/>
<circle cx="1135.5" cy="92.5" r="2.7" fill="#0000ff"/>
<circle cx="1134.7" cy="107.4" r="2.7" fill="#0000ff"/>
<circle cx="1134.7" cy="116.5" r="2.7" fill="#0000ff"/>
<circle cx="1132.2" cy="151.2" r="2.7" fill="#0000ff"/>
<circle cx="1128.1" cy="196.4" r="2.7" fill="#0000ff"/>
<circle cx="1123.6" cy="229.3" r="2.7" fill="#0000ff"/>
<circle cx="1093" cy="302.9" r="2.7" fill="#0000ff"/>
<circle cx="1077.7" cy="313.5" r="2.7" fill="#0000ff"/>
<circle cx="1037.1" cy="328" r="2.7" fill="#0000ff"/>
<circle cx="997" cy="336.7" r="2.7" fill="#0000ff"/>
<circle cx="951.3" cy="343.3" r="2.7" fill="#0000ff"/>
<circle cx="908.7" cy="348.7" r="2.7" fill="#0000ff"/>
<circle cx="865" cy="354.2" r="2.7" fill="#0000ff"/>
<circle cx="842.4" cy="356.9" r="2.7" fill="#0000ff"/>
<circle cx="812" cy="361.6" r="2.7" fill="#0000ff"/>
<circle cx="130.8" cy="716.1" r="2.7" fill="#ff0000"/>
<circle cx="132.6" cy="648.3" r="2.7" fill="#ff0000"/>
<circle cx="133.6" cy="616.2" r="2.7" fill="#ff0000"/>
<circle cx="134.5" cy="587.4" r="2.7" fill="#ff0000"/>
<circle cx="135.4" cy="564.7" r="2.7" fill="#ff0000"/>
<circle cx="136.9" cy="553.9" r="2.7" fill="#ff0000"/>
<circle cx="138.8" cy="552.6" r="2.7" fill="#ff0000"/>
<circle cx="140.6" cy="558.2" r="2.7" fill="#ff0000"/>
<circle cx="142.3" cy="566.9" r="2.7" fill="#ff0000"/>
<circle cx="144.4" cy="579.9" r="2.7" fill="#ff0000"/>
<circle cx="147" cy="601.3" r="2.7" fill="#ff0000"/>
<circle cx="150.3" cy="632.5" r="2.7" fill="#ff0000"/>
<circle cx="153.5" cy="671" r="2.7" fill="#ff0000"/>
<circle cx="157.8" cy="710.4" r="2.7" fill="#ff0000"/>
<circle cx="162.4" cy="748.3" r="2.7" fill="#ff0000"/>
<circle cx="168" cy="780.4" r="2.7" fill="#ff0000"/>
<circle cx="174.7" cy="805.8" r="2.7" fill="#ff0000"/>
<circle cx="182.1" cy="825.7" r="2.7" fill="#ff0000"/>
<circle cx="190.8" cy="839.6" r="2.7" fill="#ff0000"/>
<circle cx="201.6" cy="850" r="2.7" fill="#ff0000"/>
<circle cx="214" cy="857.2" r="2.7" fill="#ff0000"/>
<circle cx="228.3" cy="861.5" r="2.7" fill="#ff0000"/>
<circle cx="244.3" cy="863.4" r="2.7" fill="#ff0000"/>
<circle cx="261.4" cy="864.3" r="2.7" fill="#ff0000"/>
<circle cx="282.2" cy="865.1" r="2.7" fill="#ff0000"/>
<circle cx="310.2" cy="865.4" r="2.7" fill="#ff0000"/>
<circle cx="337.3" cy="865.4" r="2.7" fill="#ff0000"/>
<circle cx="370.4" cy="865.4" r="2.7" fill="#ff0000"/>
<circle cx="411.7" cy="865.6" r="2.7" fill="#ff0000"/>
<circle cx="458.5" cy="866.9" r="2.7" fill="#ff0000"/>
<circle cx="502.9" cy="868.3" r="2.7" fill="#ff0000"/>
<circle cx="731.7" cy="552.1" r="2.7" fill="#0000ff"/>
<circle cx="733.6" cy="600.9" r="2.7" fill="#0000ff"/>
<circle cx="734.7" cy="626" r="2.7" fill="#0000ff"/>
<circle cx="735.8" cy="653.7" r="2.7" fill="#0000ff"/>
<circle cx="736.9" cy="682.7" r="2.7" fill="#0000ff"/>
<circle cx="738.2" cy="709.1" r="2.7" fill="#0000ff"/>
<circle cx="739.9" cy="731.7" r="2.7" fill="#0000ff"/>
<circle cx="741.5" cy="749.5" r="2.7" fill="#0000ff"/>
<circle cx="744" cy="764.1" r="2.7" fill="#0000ff"/>
<circle cx="746.5" cy="776.5" r="2.7" fill="#0000ff"/>
<circle cx="749.4" cy="787.5" r="2.7" fill="#0000ff"/>
<circle cx="753.1" cy="796.3" r="2.7" fill="#0000ff"/>
<circle cx="756.4" cy="803.2" r="2.7" fill="#0000ff"/>
<circle cx="760.5" cy="808.3" r="2.7" fill="#0000ff"/>
<circle cx="766.3" cy="813.9" r="2.7" fill="#0000ff"/>
<circle cx="772.1" cy="820.2" r="2.7" fill="#0000ff"/>
<circle cx="778.7" cy="826" r="2.7" fill="#0000ff"/>
<circle cx="786.6" cy="829.6" r="2.7" fill="#0000ff"/>
<circle cx="796" cy="831.3" r="2.7" fill="#0000ff"/>
<circle cx="807.6" cy="832.1" r="2.7" fill="#0000ff"/>
<circle cx="820.4" cy="832.9" r="2.7" fill="#0000ff"/>
<circle cx="835.3" cy="833.8" r="2.7" fill="#0000ff"/>
<circle cx="852.1" cy="833.4" r="2.7" fill="#0000ff"/>
<circle cx="870.5" cy="834.3" r="2.7" fill="#0000ff"/>
<circle cx="892.6" cy="836.6" r="2.7" fill="#0000ff"/>
<circle cx="923" cy="842.6" r="2.7" fill="#0000ff"/>
<circle cx="952" cy="848.6" r="2.7" fill="#0000ff"/>
<circle cx="987.4" cy="854" r="2.7" fill="#0000ff"/>
<circle cx="1032.4" cy="858" r="2.7" fill="#0000ff"/>
<circle cx="1083.3" cy="863" r="2.7" fill="#0000ff"/>
<circle cx="1131.7" cy="868" r="2.7" fill="#0000ff"/>
<text transform="translate(36.2 279.2) rotate(-90)" class="ti" textLength="145" lengthAdjust="spacingAndGlyphs">V<tspan font-size="13.5" dy="5.2">a</tspan><tspan dy="-5.2">/cm</tspan><tspan font-size="13.5" dy="-8">3</tspan><tspan dy="8">(STP) g</tspan><tspan font-size="13.5" dy="-8">-1</tspan></text>
<text transform="translate(616.2 281.8) rotate(-90)" class="ti" textLength="141.8" lengthAdjust="spacingAndGlyphs">V<tspan font-size="13.5" dy="5.2">a</tspan><tspan dy="-5.2">/cm</tspan><tspan font-size="13.5" dy="-8">3</tspan><tspan dy="8">(STP) g</tspan><tspan font-size="13.5" dy="-8">-1</tspan></text>
<text transform="translate(21.8 743.5) rotate(-90)" class="ti" textLength="59.5" lengthAdjust="spacingAndGlyphs">dV<tspan font-size="12.5" dy="5">p</tspan><tspan dy="-5">/dr</tspan><tspan font-size="12.5" dy="5">p</tspan></text>
<text transform="translate(614.6 741.4) rotate(-90)" class="ti" textLength="59.4" lengthAdjust="spacingAndGlyphs">dV<tspan font-size="12.5" dy="5">p</tspan><tspan dy="-5">/dr</tspan><tspan font-size="12.5" dy="5">p</tspan></text>
<text x="306.8" y="462.6" class="ti" textLength="35.4" lengthAdjust="spacingAndGlyphs">p/p<tspan font-size="13.5" dy="5.3">0</tspan></text>
<text x="911.6" y="460.2" class="ti" textLength="37.2" lengthAdjust="spacingAndGlyphs">p/p<tspan font-size="13.5" dy="5.3">0</tspan></text>
<text x="301.4" y="954.6" class="ti" textLength="47.1" lengthAdjust="spacingAndGlyphs">r<tspan font-size="12.5" dy="4">p</tspan><tspan dy="-4">/nm</tspan></text>
<text x="914.5" y="955.4" class="ti" textLength="50.5" lengthAdjust="spacingAndGlyphs">r<tspan font-size="12.5" dy="4">p</tspan><tspan dy="-4">/nm</tspan></text>
</g></svg></body></html>
